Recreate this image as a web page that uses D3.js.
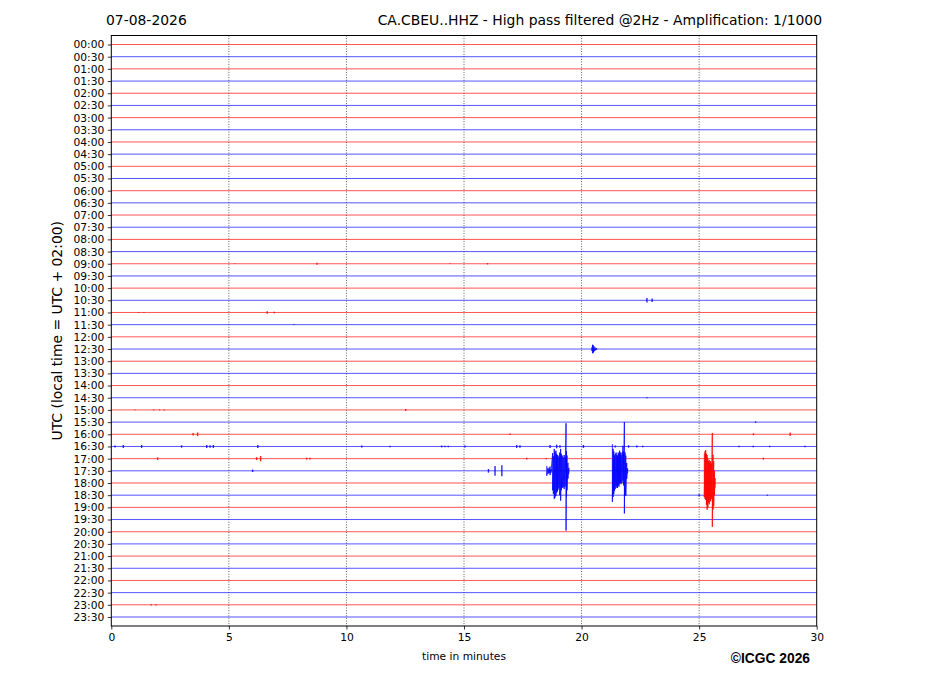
<!DOCTYPE html>
<html>
<head>
<meta charset="utf-8">
<script src="https://cdn.jsdelivr.net/npm/d3@7"></script>
<style>
  html, body { margin: 0; padding: 0; background: #fff; }
  svg { display: block; }
</style>
</head>
<body>
<svg id="chart" width="927" height="696"></svg>
<script>
// ---------------- DATA ----------------
const dateLabel = "07-08-2026";
const titleLabel = "CA.CBEU..HHZ - High pass filtered @2Hz - Amplification: 1/1000";
const yAxisLabel = "UTC (local time = UTC + 02:00)";
const xAxisLabel = "time in minutes";
const creditLabel = "\u00A9ICGC 2026";

const traceLabels = [
  "00:00","00:30","01:00","01:30","02:00","02:30","03:00","03:30",
  "04:00","04:30","05:00","05:30","06:00","06:30","07:00","07:30",
  "08:00","08:30","09:00","09:30","10:00","10:30","11:00","11:30",
  "12:00","12:30","13:00","13:30","14:00","14:30","15:00","15:30",
  "16:00","16:30","17:00","17:30","18:00","18:30","19:00","19:30",
  "20:00","20:30","21:00","21:30","22:00","22:30","23:00","23:30"
];
const xTicks = [0, 5, 10, 15, 20, 25, 30];
const xDomain = [0, 30];

// Earthquake bursts: samples [minute, amplitude up, amplitude down] in trace-spacing units
const event1Trace = "17:30";
const event1Samples = [
  [18.52,0.40,0.40],[18.57,0.25,0.25],[18.62,0.20,0.20],[18.66,0.35,0.35],[18.70,0.15,0.15],
  [18.77,1.45,1.60],[18.80,1.20,1.90],[18.84,1.80,2.30],[18.87,1.55,2.20],[18.91,1.65,2.05],
  [18.94,1.40,1.80],[18.97,1.30,1.70],[19.00,1.25,1.55],[19.04,1.10,1.40],[19.07,1.50,2.00],
  [19.11,1.80,2.45],[19.14,1.40,1.60],[19.18,1.25,1.40],[19.22,1.10,1.35],[19.26,1.30,1.50],
  [19.30,1.15,1.30],[19.34,3.90,4.90],[19.36,1.60,2.10],[19.38,1.25,1.60],[19.42,0.65,0.65],
  [19.46,0.25,0.25]
];
const event2Trace = "17:30";
const event2Samples = [
  [21.31,2.20,2.55],[21.34,1.80,2.15],[21.37,1.60,1.90],[21.40,1.25,1.65],[21.43,1.40,1.50],
  [21.47,1.50,1.25],[21.50,1.30,1.40],[21.53,1.25,1.40],[21.56,1.50,1.20],[21.59,1.40,1.30],
  [21.62,1.65,1.05],[21.65,1.50,1.00],[21.68,1.30,1.10],[21.72,1.50,1.00],[21.76,2.05,0.80],
  [21.79,1.60,1.20],[21.82,4.00,3.50],[21.85,1.50,2.00],[21.88,1.25,2.05],[21.92,0.65,0.65],
  [21.96,0.20,0.20]
];
const event3Trace = "18:00";
const event3Samples = [
  [25.22,2.40,1.15],[25.25,2.60,1.30],[25.28,2.70,1.40],[25.31,2.40,1.80],[25.34,2.30,2.20],
  [25.37,2.00,2.00],[25.40,1.80,1.60],[25.43,1.90,1.75],[25.46,1.65,1.40],[25.49,1.80,1.50],
  [25.52,1.60,1.30],[25.56,4.10,3.60],[25.59,2.30,2.20],[25.62,1.80,1.90],[25.65,1.00,1.00],
  [25.68,0.40,0.40]
];
const event4Trace = "12:30";
const event4Samples = [
  [20.44,0.15,0.15],[20.47,0.35,0.35],[20.50,0.30,0.30],[20.53,0.20,0.20],[20.58,0.12,0.12],
  [20.64,0.08,0.08]
];

// Small blips: [trace label, minute, half amplitude in trace units]
const blips = [
  ["09:00",8.75,0.08],["09:00",16.00,0.06],["09:00",14.40,0.03],["09:00",5.26,0.03],
  ["10:30",22.78,0.18],["10:30",23.00,0.14],
  ["11:00",1.16,0.03],["11:00",1.39,0.03],["11:00",6.63,0.10],["11:00",6.93,0.06],
  ["11:30",7.77,0.03],
  ["14:30",22.78,0.04],
  ["15:00",1.00,0.03],["15:00",1.80,0.04],["15:00",2.05,0.04],["15:00",2.25,0.04],["15:00",12.52,0.08],
  ["15:30",27.40,0.06],
  ["16:00",3.48,0.10],["16:00",3.67,0.15],["16:00",16.96,0.06],["16:00",27.31,0.08],["16:00",28.87,0.15],
  ["16:30",0.16,0.08],["16:30",0.51,0.12],["16:30",1.29,0.12],["16:30",2.99,0.10],["16:30",4.06,0.12],
  ["16:30",4.20,0.10],["16:30",4.34,0.12],["16:30",6.23,0.12],["16:30",10.65,0.08],["16:30",11.85,0.06],
  ["16:30",14.05,0.08],["16:30",14.19,0.06],["16:30",14.33,0.06],["16:30",15.04,0.08],["16:30",17.24,0.12],
  ["16:30",17.38,0.10],["16:30",18.66,0.12],["16:30",18.94,0.15],["16:30",19.08,0.10],["16:30",20.08,0.12],
  ["16:30",21.43,0.08],["16:30",22.00,0.10],["16:30",22.35,0.08],["16:30",22.60,0.06],["16:30",26.70,0.06],
  ["16:30",27.30,0.06],["16:30",28.00,0.06],["16:30",29.50,0.06],
  ["17:00",1.97,0.10],["17:00",6.18,0.12],["17:00",6.35,0.22],["17:00",8.31,0.08],["17:00",8.45,0.08],
  ["17:00",17.67,0.08],["17:00",18.50,0.05],["17:00",27.73,0.08],
  ["17:30",6.01,0.10],["17:30",16.04,0.15],["17:30",16.32,0.40],["17:30",16.61,0.45],
  ["18:30",25.00,0.08],["18:30",27.90,0.04],
  ["23:00",1.70,0.05],["23:00",1.90,0.05]
];

const traceColors = ["#ff0000", "#0000ff"];

// ---------------- DRAW ----------------
const svg = d3.select("#chart");
const plot = { left: 111.3, right: 816.7, top: 35.5, bottom: 626 };

const x = d3.scaleLinear().domain(xDomain).range([plot.left, plot.right]);
const y = d3.scaleLinear().domain([-0.74, traceLabels.length - 1 + 0.74]).range([plot.top, plot.bottom]);
const idx = l => traceLabels.indexOf(l);
const colorOf = i => traceColors[i % 2];

// grid lines
svg.append("g").selectAll("line").data(xTicks.filter(t => t > xDomain[0] && t < xDomain[1])).join("line")
  .attr("x1", d => x(d)).attr("x2", d => x(d))
  .attr("y1", plot.top).attr("y2", plot.bottom)
  .attr("stroke", "#333").attr("stroke-width", 0.8)
  .attr("stroke-dasharray", "1,1.6");

// trace base lines
const traceG = svg.append("g");
traceG.selectAll("line").data(traceLabels).join("line")
  .attr("x1", x(xDomain[0])).attr("x2", x(xDomain[1]))
  .attr("y1", (d, i) => y(i)).attr("y2", (d, i) => y(i))
  .attr("stroke", (d, i) => colorOf(i))
  .attr("stroke-opacity", 0.75)
  .attr("stroke-width", 0.9);

// blips
traceG.append("g").selectAll("line").data(blips).join("line")
  .attr("x1", d => x(d[1])).attr("x2", d => x(d[1]))
  .attr("y1", d => y(idx(d[0]) - d[2])).attr("y2", d => y(idx(d[0]) + d[2]))
  .attr("stroke", d => colorOf(idx(d[0])))
  .attr("stroke-opacity", 0.85)
  .attr("stroke-width", 1.4);

// bursts as zigzag waveforms
const events = [
  [event4Trace, event4Samples],
  [event1Trace, event1Samples],
  [event2Trace, event2Samples],
  [event3Trace, event3Samples]
];
const line = d3.line().x(d => x(d[0])).y(d => y(d[1]));
events.forEach(([tr, samples]) => {
  const i = idx(tr);
  const pts = [];
  samples.forEach(s => {
    pts.push([s[0], i - s[1]]);
    pts.push([s[0], i + s[2]]);
  });
  traceG.append("path")
    .attr("d", line(pts))
    .attr("fill", "none")
    .attr("stroke", colorOf(i))
    .attr("stroke-width", 0.8)
    .attr("stroke-linejoin", "round");
});

// frame
svg.append("rect")
  .attr("x", plot.left).attr("y", plot.top)
  .attr("width", plot.right - plot.left).attr("height", plot.bottom - plot.top)
  .attr("fill", "none").attr("stroke", "#000").attr("stroke-width", 1);

// y axis
const yAxis = d3.axisLeft(y)
  .tickValues(d3.range(traceLabels.length))
  .tickFormat(i => traceLabels[i])
  .tickSize(3.5).tickPadding(3.5);
const yg = svg.append("g").attr("transform", `translate(${plot.left},0)`).call(yAxis);
yg.select(".domain").remove();
yg.selectAll("text").attr("font-family", "DejaVu Sans").attr("font-size", 10.7).attr("fill", "#000");
yg.selectAll("line").attr("stroke", "#000").attr("stroke-width", 0.8);

// x axis
const xAxis = d3.axisBottom(x).tickValues(xTicks).tickFormat(d3.format("d")).tickSize(3.5).tickPadding(3.5);
const xg = svg.append("g").attr("transform", `translate(0,${plot.bottom})`).call(xAxis);
xg.select(".domain").remove();
xg.selectAll("text").attr("font-family", "DejaVu Sans").attr("font-size", 10.7).attr("fill", "#000");
xg.selectAll("line").attr("stroke", "#000").attr("stroke-width", 0.8);

// texts
svg.append("text").attr("x", 106).attr("y", 25)
  .attr("font-family", "DejaVu Sans").attr("font-size", 13.9).text(dateLabel);
svg.append("text").attr("x", 822).attr("y", 25).attr("text-anchor", "end")
  .attr("font-family", "DejaVu Sans").attr("font-size", 13.9).text(titleLabel);
svg.append("text")
  .attr("transform", `translate(62,${(plot.top + plot.bottom) / 2}) rotate(-90)`)
  .attr("text-anchor", "middle")
  .attr("font-family", "DejaVu Sans").attr("font-size", 13.9).text(yAxisLabel);
svg.append("text").attr("x", (plot.left + plot.right) / 2).attr("y", 660)
  .attr("text-anchor", "middle")
  .attr("font-family", "DejaVu Sans").attr("font-size", 10.7).text(xAxisLabel);
svg.append("text").attr("x", 810).attr("y", 663).attr("text-anchor", "end")
  .attr("font-family", "Liberation Sans, Arial, sans-serif").attr("font-weight", "bold")
  .attr("font-size", 13.8).text(creditLabel);
</script>
</body>
</html>
